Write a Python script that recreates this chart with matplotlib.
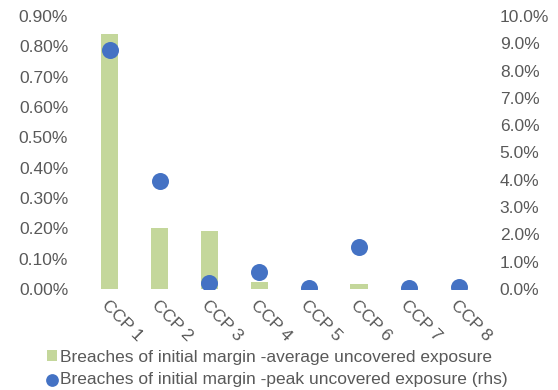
import matplotlib.pyplot as plt
from matplotlib.ticker import FuncFormatter
import matplotlib.transforms as mtransforms

plt.rcParams['font.family'] = ['Liberation Sans', 'DejaVu Sans']

ccps = ["CCP 1", "CCP 2", "CCP 3", "CCP 4", "CCP 5", "CCP 6", "CCP 7", "CCP 8"]
# average uncovered exposure (lhs, %)
avg_exposure = [0.84, 0.20, 0.19, 0.023, 0.0, 0.017, 0.0, 0.0]
# peak uncovered exposure (rhs, %)
peak_exposure = [8.75, 3.96, 0.22, 0.62, 0.04, 1.54, 0.03, 0.07]

grey = "#595959"
green = "#C4D79B"
blue = "#4472C4"

fig = plt.figure(figsize=(5.58, 3.9), dpi=100)
ax = fig.add_axes([0.152, 0.259, 0.715, 0.700])
ax2 = ax.twinx()

x = list(range(len(ccps)))
ax.bar(x, avg_exposure, width=0.35, color=green, zorder=1,
       label="Breaches of initial margin -average uncovered exposure")
ax2.scatter(x, peak_exposure, s=150, color=blue, zorder=3, linewidths=0,
            label="Breaches of initial margin -peak uncovered exposure (rhs)")

ax.set_xlim(-0.5, len(ccps) - 0.5)
ax.set_ylim(0, 0.9)
ax2.set_ylim(0, 10)
ax.set_yticks([i / 10 for i in range(10)])
ax2.set_yticks(range(11))
ax.yaxis.set_major_formatter(FuncFormatter(lambda v, p: "%.2f%%" % v))
ax2.yaxis.set_major_formatter(FuncFormatter(lambda v, p: "%.1f%%" % v))

for a in (ax, ax2):
    for s in a.spines.values():
        s.set_visible(False)
    a.tick_params(length=0, colors=grey, labelsize=12.5)
ax.tick_params(axis='y', pad=12)
ax2.tick_params(axis='y', pad=11.5)

ax.set_xticks(x)
ax.set_xticklabels(ccps, rotation=-45, ha='left', va='top')
offset = mtransforms.ScaledTranslation(-11 / 100, -4 / 100, fig.dpi_scale_trans)
for lbl in ax.get_xticklabels():
    lbl.set_transform(lbl.get_transform() + offset)

h1, l1 = ax.get_legend_handles_labels()
h2, l2 = ax2.get_legend_handles_labels()
fig.legend(h1 + h2, l1 + l2, loc='upper center', bbox_to_anchor=(0.497, 0.125),
           frameon=False, fontsize=12.5, labelcolor=grey, handlelength=0.6,
           handleheight=0.6, handletextpad=0.15, labelspacing=0.4, borderpad=0,
           markerscale=0.75)

fig.savefig("out.png", dpi=100)
